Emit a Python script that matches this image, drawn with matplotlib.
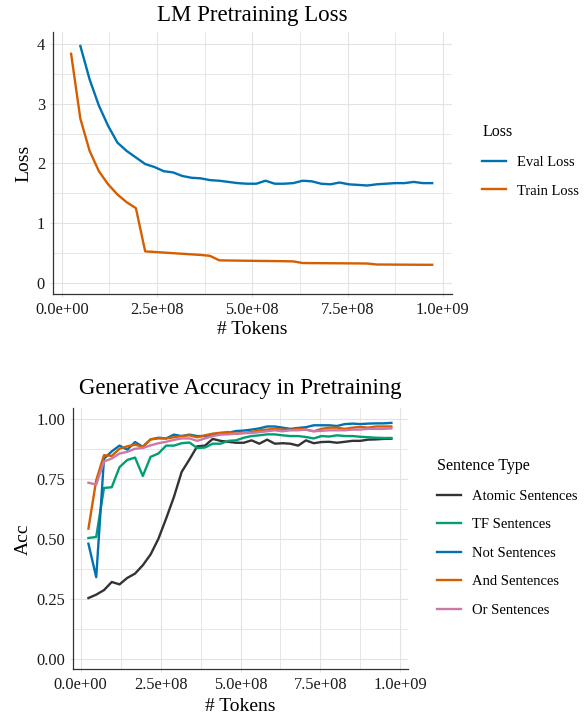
import matplotlib
matplotlib.use("Agg")
import matplotlib.pyplot as plt
from matplotlib.ticker import MultipleLocator, FuncFormatter

plt.rcParams['font.family'] = ['Liberation Serif', 'DejaVu Serif']

# ---------------- data ----------------
tokens_m = [24.3, 48.6, 72.9, 97.2, 121.5, 145.8, 170.1, 194.4, 218.7, 243.0,
            267.3, 291.6, 315.9, 340.2, 364.5, 388.8, 413.1, 437.4, 461.7, 486.0,
            510.3, 534.6, 558.9, 583.2, 607.5, 631.8, 656.1, 680.4, 704.7, 729.0,
            753.3, 777.6, 801.9, 826.2, 850.5, 874.8, 899.1, 923.4, 947.7, 972.0]

train_loss = [3.84, 2.75, 2.21, 1.87, 1.65, 1.48, 1.35, 1.25, 0.525, 0.515,
              0.505, 0.495, 0.485, 0.475, 0.465, 0.45, 0.375, 0.372, 0.370, 0.368,
              0.366, 0.364, 0.362, 0.360, 0.357, 0.330, 0.328, 0.327, 0.326, 0.325,
              0.324, 0.323, 0.321, 0.305, 0.304, 0.303, 0.302, 0.301, 0.300, 0.300]

# eval loss starts at the 2nd token checkpoint
eval_loss = [3.97, 3.41, 2.97, 2.63, 2.35, 2.21, 2.10, 1.99, 1.94,
             1.87, 1.85, 1.79, 1.76, 1.75, 1.72, 1.71, 1.69, 1.67, 1.66,
             1.66, 1.71, 1.66, 1.66, 1.67, 1.71, 1.70, 1.66, 1.65, 1.68,
             1.65, 1.64, 1.63, 1.65, 1.66, 1.67, 1.67, 1.69, 1.67, 1.67]

acc_atomic = [0.253, 0.267, 0.286, 0.32, 0.31, 0.337, 0.355, 0.39, 0.435, 0.50,
              0.585, 0.675, 0.78, 0.832, 0.887, 0.89, 0.918, 0.91, 0.906, 0.902,
              0.902, 0.912, 0.898, 0.915, 0.898, 0.90, 0.898, 0.89, 0.912, 0.90,
              0.905, 0.906, 0.902, 0.906, 0.91, 0.91, 0.915, 0.916, 0.918, 0.919]
acc_tf = [0.504, 0.508, 0.713, 0.716, 0.80, 0.83, 0.84, 0.763, 0.843, 0.857,
          0.89, 0.89, 0.90, 0.903, 0.88, 0.882, 0.898, 0.898, 0.91, 0.912,
          0.923, 0.93, 0.933, 0.937, 0.937, 0.933, 0.93, 0.93, 0.926, 0.92,
          0.93, 0.928, 0.933, 0.93, 0.93, 0.927, 0.925, 0.923, 0.922, 0.922]
acc_not = [0.48, 0.34, 0.835, 0.866, 0.89, 0.873, 0.905, 0.885, 0.916, 0.923,
           0.92, 0.936, 0.93, 0.936, 0.93, 0.93, 0.936, 0.94, 0.944, 0.951,
           0.953, 0.957, 0.962, 0.97, 0.97, 0.965, 0.96, 0.964, 0.967, 0.975,
           0.975, 0.975, 0.972, 0.98, 0.982, 0.98, 0.982, 0.983, 0.983, 0.985]
acc_and = [0.543, 0.745, 0.85, 0.847, 0.877, 0.887, 0.894, 0.885, 0.916, 0.92,
           0.92, 0.925, 0.93, 0.933, 0.925, 0.933, 0.94, 0.944, 0.947, 0.94,
           0.943, 0.947, 0.954, 0.957, 0.96, 0.957, 0.956, 0.96, 0.957, 0.95,
           0.96, 0.965, 0.965, 0.96, 0.965, 0.968, 0.965, 0.97, 0.97, 0.97]
acc_or = [0.735, 0.727, 0.824, 0.836, 0.857, 0.864, 0.877, 0.88, 0.891, 0.90,
          0.906, 0.914, 0.92, 0.92, 0.91, 0.92, 0.93, 0.936, 0.937, 0.94,
          0.942, 0.943, 0.946, 0.95, 0.954, 0.95, 0.954, 0.954, 0.957, 0.95,
          0.952, 0.954, 0.954, 0.954, 0.957, 0.957, 0.96, 0.96, 0.96, 0.962]

loss_labels = ["Eval Loss", "Train Loss"]
loss_colors = ["#0072B2", "#D55E00"]
sent_labels = ["Atomic Sentences", "TF Sentences", "Not Sentences", "And Sentences", "Or Sentences"]
sent_colors = ["#333333", "#009E73", "#0072B2", "#D55E00", "#CC79A7"]
sent_values = [acc_atomic, acc_tf, acc_not, acc_and, acc_or]

tokens = [t * 1e6 for t in tokens_m]

# ---------------- figure ----------------
W, H = 587, 716
fig = plt.figure(figsize=(W / 100, H / 100), dpi=100)

def px_axes(left, top, right, bottom):
    return fig.add_axes([left / W, 1 - bottom / H, (right - left) / W, (bottom - top) / H])

GRID = "#e3e3e3"

def style(ax, xlabelpad):
    for s in ["top", "right"]:
        ax.spines[s].set_visible(False)
    for s in ["left", "bottom"]:
        ax.spines[s].set_color("#333333")
        ax.spines[s].set_linewidth(0.9)
    ax.set_axisbelow(True)
    ax.grid(which="major", color=GRID, linewidth=0.8)
    ax.grid(which="minor", color=GRID, linewidth=0.6)
    ax.tick_params(which="major", length=2.5, color=GRID, width=0.8, labelsize=11.8,
                   labelcolor="#1a1a1a", pad=3)
    ax.tick_params(which="minor", length=0)
    ax.xaxis.set_major_locator(MultipleLocator(2.5e8))
    ax.xaxis.set_minor_locator(MultipleLocator(1.25e8))
    ax.xaxis.set_major_formatter(FuncFormatter(lambda v, p: "%.1e" % v))
    ax.set_xlim(-0.024e9, 1.024e9)
    ax.set_xlabel("# Tokens", fontsize=14, labelpad=xlabelpad)

# ---- top: LM pretraining loss ----
ax1 = px_axes(52.7, 32.3, 452, 294)
style(ax1, 2.5)
l1, = ax1.plot(tokens[1:], eval_loss, color=loss_colors[0], lw=1.7)
l2, = ax1.plot(tokens, train_loss, color=loss_colors[1], lw=1.7)
ax1.set_ylim(-0.19, 4.2)
ax1.yaxis.set_major_locator(MultipleLocator(1))
ax1.yaxis.set_minor_locator(MultipleLocator(0.5))
ax1.set_ylabel("Loss", fontsize=14, labelpad=3.5)
ax1.set_title("LM Pretraining Loss", fontsize=16.5, pad=8)

leg1 = fig.legend([l1, l2], loss_labels, title="Loss", loc="center left",
                  bbox_to_anchor=(475 / W, 1 - 161 / H), frameon=False,
                  fontsize=10.5, title_fontsize=11.5, handlelength=1.6,
                  handletextpad=0.8, labelspacing=1.05, borderpad=0,
                  alignment="left")

# ---- bottom: generative accuracy ----
ax2 = px_axes(73, 408.3, 408, 669.3)
style(ax2, 3.5)
handles = []
for vals, c in zip(sent_values, sent_colors):
    h, = ax2.plot(tokens, vals, color=c, lw=1.7)
    handles.append(h)
ax2.set_ylim(-0.045, 1.046)
ax2.yaxis.set_major_locator(MultipleLocator(0.25))
ax2.yaxis.set_minor_locator(MultipleLocator(0.125))
ax2.yaxis.set_major_formatter(FuncFormatter(lambda v, p: "%.2f" % v))
ax2.set_ylabel("Acc", fontsize=14, labelpad=3.5)
ax2.set_title("Generative Accuracy in Pretraining", fontsize=16.5, pad=10)

leg2 = fig.legend(handles, sent_labels, title="Sentence Type", loc="center left",
                  bbox_to_anchor=(430 / W, 1 - 537.5 / H), frameon=False,
                  fontsize=10.5, title_fontsize=11.5, handlelength=1.6,
                  handletextpad=0.8, labelspacing=1.05, borderpad=0,
                  alignment="left")

fig.savefig("out.png", dpi=100)
